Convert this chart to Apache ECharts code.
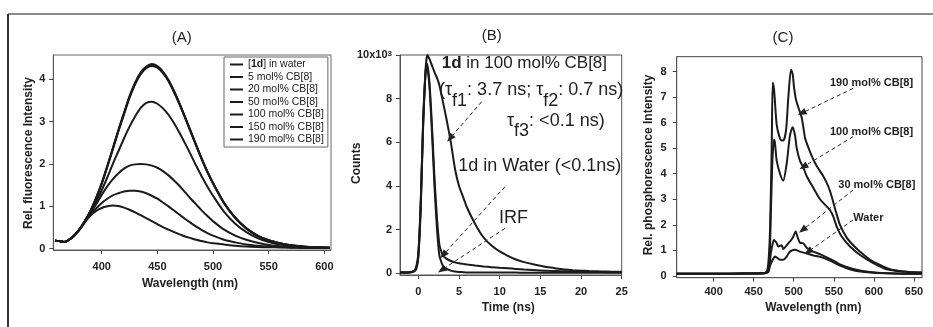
<!DOCTYPE html>
<html><head><meta charset="utf-8">
<script src="https://cdn.jsdelivr.net/npm/echarts@6/dist/echarts.min.js"></script>
<style>html,body{margin:0;padding:0;background:#fff}#c{width:933px;height:327px}</style>
</head><body><div id="c"></div>
<script>
// ---------- Panel A: fluorescence spectra ----------
const aWl = [358,362,366,370,375,380,385,390,395,400,405,410,415,420,425,430,435,440,445,450,455,460,465,470,475,480,485,490,495,500,510,520,530,540,550,560,570,580,590,600,605];
const aNames = ['[1d] in water','5 mol% CB[8]','20 mol% CB[8]','50 mol% CB[8]','100 mol% CB[8]','150 mol% CB[8]','190 mol% CB[8]'];
const aWater = [0.19,0.18,0.16,0.2,0.3,0.45,0.63,0.78,0.89,0.96,1.0,1.02,1.01,0.97,0.92,0.86,0.79,0.72,0.65,0.58,0.51,0.45,0.39,0.34,0.29,0.25,0.21,0.18,0.15,0.13,0.1,0.07,0.05,0.04,0.035,0.03,0.025,0.02,0.02,0.015,0.015];
const a5 = [0.19,0.18,0.16,0.2,0.3,0.45,0.64,0.8,0.95,1.08,1.18,1.26,1.31,1.35,1.37,1.37,1.35,1.31,1.25,1.18,1.09,1.0,0.9,0.8,0.7,0.61,0.52,0.44,0.37,0.31,0.21,0.15,0.1,0.07,0.05,0.04,0.03,0.025,0.02,0.02,0.02];
const a20 = [0.19,0.18,0.16,0.2,0.3,0.45,0.64,0.84,1.05,1.27,1.47,1.64,1.78,1.89,1.96,1.99,2.0,1.99,1.96,1.91,1.83,1.73,1.61,1.48,1.33,1.18,1.04,0.9,0.77,0.65,0.45,0.31,0.21,0.14,0.09,0.06,0.045,0.035,0.03,0.02,0.02];
const a50 = [0.19,0.18,0.16,0.2,0.3,0.45,0.65,0.88,1.12,1.38,1.68,2.0,2.3,2.6,2.88,3.12,3.32,3.44,3.47,3.42,3.31,3.16,2.96,2.73,2.48,2.22,1.95,1.7,1.46,1.25,0.87,0.59,0.39,0.25,0.16,0.1,0.07,0.05,0.035,0.025,0.02];
const a100 = [0.19,0.18,0.16,0.2,0.31,0.46,0.66,0.9,1.19,1.53,1.93,2.35,2.77,3.17,3.56,3.88,4.12,4.26,4.31,4.27,4.14,3.95,3.69,3.4,3.08,2.75,2.42,2.1,1.8,1.54,1.07,0.72,0.47,0.3,0.2,0.13,0.08,0.055,0.04,0.03,0.025];
const a150 = [0.19,0.18,0.16,0.2,0.31,0.46,0.66,0.9,1.2,1.54,1.94,2.36,2.79,3.19,3.58,3.9,4.14,4.28,4.34,4.3,4.16,3.97,3.71,3.41,3.09,2.76,2.43,2.11,1.81,1.55,1.08,0.73,0.48,0.31,0.2,0.13,0.08,0.055,0.04,0.03,0.025];
const a190 = [0.19,0.18,0.16,0.2,0.31,0.46,0.66,0.9,1.2,1.55,1.95,2.37,2.8,3.2,3.6,3.92,4.16,4.3,4.36,4.31,4.18,3.98,3.72,3.42,3.1,2.77,2.44,2.12,1.82,1.55,1.08,0.73,0.48,0.31,0.2,0.13,0.08,0.055,0.04,0.03,0.025];
const aXTicks = [400,450,500,550,600];
const aYTicks = [0,1,2,3,4];

// ---------- Panel B: fluorescence decays (counts x 10^3) ----------
const bTime = [-2.25,-1.5,-1,-0.5,-0.25,0,0.3,0.6,0.9,1.1,1.4,1.7,2.0,2.3,2.6,3.0,3.5,4.0,4.5,5,5.5,6,7,8,9,10,11,12,13,14,15,16,17,18,19,20,21,22,23,24,25];
const bCB8 = [0.05,0.05,0.06,0.12,0.3,0.9,3.3,7.0,9.4,10.0,9.8,9.5,9.2,8.95,8.6,7.9,7.0,6.0,4.8,4.0,3.5,3.0,2.25,1.65,1.27,1.0,0.8,0.63,0.51,0.42,0.34,0.27,0.22,0.17,0.14,0.12,0.1,0.09,0.08,0.07,0.07];
const bWater = [0.03,0.03,0.04,0.1,0.25,0.8,3.2,7.0,9.3,9.6,8.6,6.6,4.3,2.5,1.3,0.82,0.66,0.56,0.5,0.46,0.43,0.4,0.35,0.31,0.28,0.25,0.23,0.2,0.17,0.15,0.13,0.11,0.1,0.09,0.08,0.07,0.06,0.06,0.05,0.05,0.05];
const bIRF = [0.02,0.02,0.03,0.08,0.2,0.7,3.0,6.8,9.2,9.5,8.4,6.3,3.9,2.0,0.8,0.35,0.2,0.12,0.08,0.06,0.05,0.04,0.04,0.03,0.03,0.03,0.03,0.03,0.02,0.02,0.02,0.02,0.02,0.02,0.02,0.02,0.02,0.02,0.02,0.02,0.02];
const bXTicks = [0,5,10,15,20,25];
const bYTicks = [0,2,4,6,8,10];

// ---------- Panel C: phosphorescence spectra ----------
const c190Wl = [354,400,440,460,466,468.3,470.4,472.5,473.8,475.4,476.6,478.8,482,485,487,490.4,493.3,496.6,498.7,500.3,502.8,505.7,509.9,514.1,516.2,522.4,528.7,536.9,543.1,547.4,552.7,557.7,566.1,574.3,582.7,595.2,607.6,620.1,636.7,657.5,660];
const c190 = [0.08,0.08,0.09,0.1,0.15,0.5,1.8,5.0,7.57,7.3,6.8,5.9,5.46,5.3,5.3,5.7,7.0,8.07,7.9,7.4,6.9,6.6,6.2,5.4,5.2,4.7,4.3,3.9,3.5,3.1,2.5,2.0,1.5,1.2,0.95,0.63,0.43,0.26,0.17,0.13,0.13];
const c100Wl = [354,400,440,460,466.3,469.6,471.5,473.5,475.4,476.6,478.8,482.9,486.8,491.2,495.3,498.7,501.6,503.7,507.8,511.9,516.2,524.4,532.8,541.1,545.2,549.4,553.6,559.8,570.2,582.7,599.3,616,636.7,657.5,660];
const c100 = [0.08,0.08,0.09,0.1,0.12,0.6,2.5,4.6,5.33,5.2,4.5,4.0,3.73,4.4,5.5,5.82,5.5,5.0,4.5,4.25,3.9,3.45,3.0,2.72,2.58,2.32,1.93,1.54,1.15,0.82,0.5,0.26,0.17,0.13,0.13];
const c30Wl = [354,400,440,460,468.3,471.5,474,475.4,478.8,480.8,485,487,491.2,495.3,499,502.4,505,507.8,511.9,516.2,524.4,532.8,541.1,549.4,557.7,574.3,595.2,616,657.5,660];
const c30 = [0.08,0.08,0.09,0.1,0.2,0.9,1.3,1.41,1.28,1.15,1.2,1.05,1.2,1.35,1.5,1.74,1.5,1.3,1.28,1.1,0.95,0.85,0.72,0.6,0.45,0.27,0.15,0.1,0.08,0.08];
const cWaterWl = [354,400,440,460,468.3,470.4,473.8,476.6,478.8,482.9,487,491.2,495.3,501.6,507.8,516.2,524.4,532.8,545.2,557.7,574.3,595.2,616,657.5,660];
const cWater = [0.08,0.08,0.09,0.09,0.15,0.4,0.63,0.76,0.72,0.63,0.63,0.76,0.95,1.02,0.95,0.88,0.8,0.75,0.6,0.4,0.22,0.13,0.1,0.08,0.08];
const cXTicks = [400,450,500,550,600,650];
const cYTicks = [0,1,2,3,4,5,6,7,8];

// ---------- Annotation arrows (data coordinates: [from, to]) ----------
const bArrows = [[[7.79,7.86],[3.9,6.18]], [[10.66,3.97],[3.07,0.84]], [[10.66,2.06],[2.88,0.15]]];
const cArrows = [[[574,7.34],[510,6.37]], [[574,5.45],[512,4.27]], [[574,3.36],[511,1.80]], [[574,2.19],[518,0.95]]];

const INK = '#1b1b1b';
const F = 'Liberation Sans, Arial, sans-serif';
const zip = (xs, ys) => xs.map((x, i) => [x, ys[i]]);
const tickFont = {fontFamily:F, fontWeight:'bold', fontSize:11, color:'#222'};

function mkAxis(grid, min, max, ticks, margin, extra) {
  return Object.assign({
    gridIndex: grid, type:'value', min:min, max:max,
    axisLine:{show:true, onZero:false, lineStyle:{color:'#555', width:1}},
    axisTick:{show:true, inside:false, length:4, customValues:ticks, lineStyle:{color:'#444', width:1}},
    axisLabel:Object.assign({customValues:ticks, margin:margin}, tickFont),
    splitLine:{show:false}, minorTick:{show:false}
  }, extra || {});
}

function arrowLines(arr) {
  return {
    silent:true, animation:false,
    symbol:['none','triangle'], symbolSize:[7,9],
    label:{show:false},
    lineStyle:{color:'#222', type:[4,3], width:1},
    emphasis:{disabled:true},
    data: arr.map(a => [{coord:a[0]}, {coord:a[1]}])
  };
}

const aSeriesVals = [aWater, a5, a20, a50, a100, a150, a190];
const series = [];
aSeriesVals.forEach((v, i) => {
  series.push({name:aNames[i], type:'line', xAxisIndex:0, yAxisIndex:0, data:zip(aWl, v),
    showSymbol:false, smooth:0.3, lineStyle:{color:INK, width:2}, itemStyle:{color:INK}, silent:true});
});
[bIRF, bWater, bCB8].forEach((v, i) => {
  const s = {type:'line', xAxisIndex:1, yAxisIndex:1, data:zip(bTime, v), showSymbol:false, smooth:0.15,
    lineStyle:{color:INK, width:2}, silent:true};
  if (i === 2) s.markLine = arrowLines(bArrows);
  series.push(s);
});
[[cWaterWl,cWater],[c30Wl,c30],[c100Wl,c100],[c190Wl,c190]].forEach((p, i) => {
  const s = {type:'line', xAxisIndex:2, yAxisIndex:2, data:zip(p[0], p[1]), showSymbol:false, smooth:0.25,
    lineStyle:{color:INK, width:2}, silent:true};
  if (i === 3) s.markLine = arrowLines(cArrows);
  series.push(s);
});

function txt(x, y, text, opt) {
  return {type:'text', x:x, y:y, rotation:(opt && opt.rot) || 0, silent:true,
    style:{text:text, font:(opt && opt.font) || ('bold 12px ' + F), fill:'#222',
      textAlign:(opt && opt.align) || 'center', textVerticalAlign:'middle'}};
}
// sequence of text pieces with baseline offsets (for subscripts)
const mctx = document.createElement('canvas').getContext('2d');
function seq(x, y, pieces, size) {
  const out = [];
  let cx = x;
  pieces.forEach(p => {
    const font = (p[2] ? 'bold ' : '') + size + 'px ' + F;
    out.push(txt(cx, y + p[1], p[0], {font:font, align:'left'}));
    mctx.font = font;
    cx += mctx.measureText(p[0]).width;
  });
  return out;
}
const BS = 18;

const option = {
  animation:false,
  backgroundColor:'#fff',
  grid:[
    {left:53.3, top:55, width:277.7, height:195, show:true, borderColor:'#666', borderWidth:1},
    {left:400, top:55, width:221.7, height:220, show:true, borderColor:'#555', borderWidth:1},
    {left:676.7, top:56.7, width:245.3, height:221, show:true, borderColor:'#444', borderWidth:1}
  ],
  xAxis:[
    mkAxis(0, 356.5, 606, aXTicks, 11),
    mkAxis(1, -2.25, 25, bXTicks, 11),
    mkAxis(2, 354, 660, cXTicks, 9)
  ],
  yAxis:[
    mkAxis(0, -0.03, 4.57, aYTicks, 8),
    mkAxis(1, -0.08, 10, bYTicks, 8, {axisLabel:Object.assign({customValues:bYTicks, margin:8,
      formatter:(v) => v === 10 ? '10x10{sup|3}' : String(v),
      rich:{sup:{fontSize:8, fontWeight:'bold', fontFamily:F, color:'#222', verticalAlign:'top', lineHeight:10}}}, tickFont)}),
    mkAxis(2, -0.07, 8.58, cYTicks, 10)
  ],
  legend:{
    show:true, orient:'vertical', left:224, top:57, data:aNames,
    icon:'rect', itemWidth:13, itemHeight:2, itemGap:1.5,
    padding:[2,4,2,6], borderColor:'#666', borderWidth:1, backgroundColor:'#fff',
    selectedMode:false,
    textStyle:{fontFamily:F, fontSize:10.5, color:'#222', lineHeight:11,
      rich:{b:{fontFamily:F, fontSize:10.5, fontWeight:'bold', color:'#222'}}},
    formatter:(n) => n === '[1d] in water' ? '[{b|1d}] in water' : n
  },
  series:series,
  graphic:{elements:[
    {type:'line', silent:true, shape:{x1:8, y1:14, x2:933, y2:14}, style:{stroke:'#8a8a8a', lineWidth:2}},
    {type:'line', silent:true, shape:{x1:8, y1:14, x2:8, y2:327}, style:{stroke:'#333', lineWidth:2}},
    txt(181.7, 38, '(A)', {font:'15px ' + F}),
    txt(491.7, 36, '(B)', {font:'15px ' + F}),
    txt(783, 38, '(C)', {font:'15px ' + F}),
    txt(190, 284, 'Wavelength (nm)'),
    txt(29, 153, 'Rel. fluorescence Intensity', {rot:Math.PI/2}),
    txt(508.3, 308, 'Time (ns)'),
    txt(357, 163.3, 'Counts', {rot:Math.PI/2}),
    txt(813.3, 308, 'Wavelength (nm)'),
    txt(648.3, 165, 'Rel. phosphorescence Intensity', {rot:Math.PI/2}),
    ...seq(441.7, 63.3, [['1d',0,true],[' in 100 mol% CB[8]',0,false]], 17),
    ...seq(439, 90, [['(τ',0],['f1',11],[': 3.7 ns; τ',0],['f2',11],[': 0.7 ns)',0]], BS),
    ...seq(507, 121, [['τ',0],['f3',10],[': <0.1 ns)',0]], BS),
    txt(458.3, 166, '1d in Water (<0.1ns)', {font:BS + 'px ' + F, align:'left'}),
    txt(499, 218, 'IRF', {font:BS + 'px ' + F, align:'left'}),
    txt(830, 83.3, '190 mol% CB[8]', {font:'bold 11px ' + F, align:'left'}),
    txt(830, 131.7, '100 mol% CB[8]', {font:'bold 11px ' + F, align:'left'}),
    txt(838.3, 185, '30 mol% CB[8]', {font:'bold 11px ' + F, align:'left'}),
    txt(853.3, 218.3, 'Water', {font:'bold 11px ' + F, align:'left'})
  ]}
};
const chart = echarts.init(document.getElementById('c'), null, {renderer:'canvas'});
chart.setOption(option);
</script></body></html>
